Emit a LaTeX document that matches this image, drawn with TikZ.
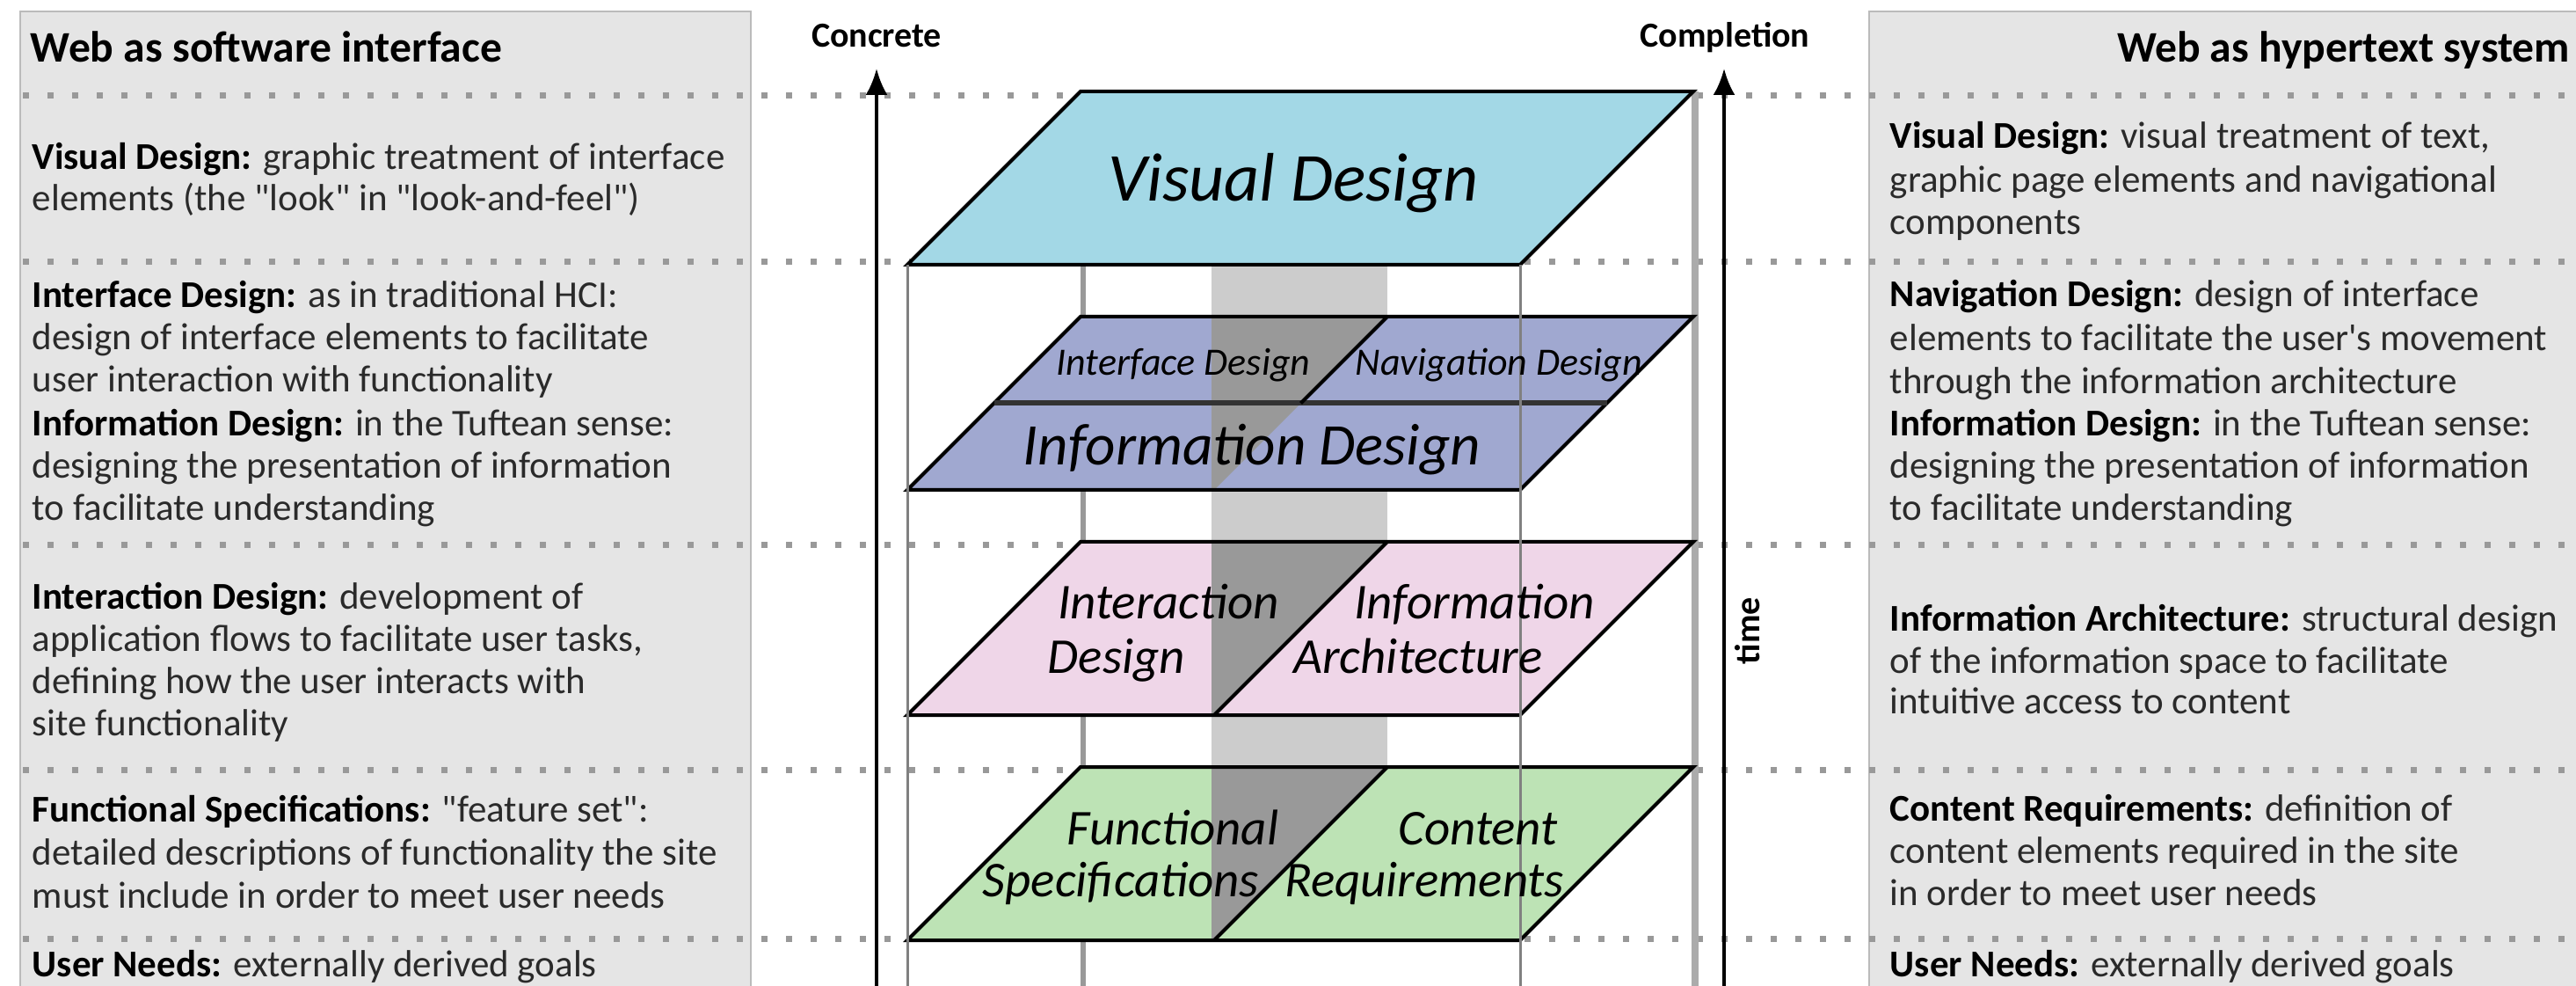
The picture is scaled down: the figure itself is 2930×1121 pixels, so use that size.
\documentclass[tikz,border=0pt]{standalone}
\usepackage{fontspec}
\setmainfont{Carlito}[Ligatures=TeXOff]
\usetikzlibrary{arrows.meta}
\definecolor{boxfill}{HTML}{E5E5E5}
\definecolor{boxline}{HTML}{BBBBBB}
\definecolor{dotc}{HTML}{999999}
\definecolor{visc}{HTML}{A3D8E6}
\definecolor{intc}{HTML}{A0A8D0}
\definecolor{pinkc}{HTML}{EFD6E8}
\definecolor{greenc}{HTML}{BDE3B5}
\definecolor{colL}{HTML}{CCCCCC}
\definecolor{colD}{HTML}{999999}
\definecolor{bodyc}{HTML}{2A2A2A}
\newcommand{\keyw}[1]{\textcolor{black}{\textbf{#1}}}
\begin{document}
\begin{tikzpicture}[x=0.25pt,y=-0.25pt,
  panel/.style={fill=boxfill,draw=boxline,line width=0.6pt},
  dotrow/.style={dotc,line width=1.75pt,dash pattern=on 1.75pt off 5.25pt},
  layer/.style={draw=black,line width=1pt,line join=miter},
  divln/.style={draw=black,line width=1pt},
  midln/.style={draw=black!80,line width=1.5pt},
  backln/.style={draw=black!40,line width=1.5pt},
  backrln/.style={draw=black!33,line width=2pt},
  frontln/.style={draw=black!50,line width=0.75pt},
  txt/.style={anchor=base west,inner sep=0pt,font=\fontsize{10.75pt}{12pt}\selectfont,text=bodyc},
  ttl/.style={anchor=base west,inner sep=0pt,font=\fontsize{12.4pt}{14pt}\selectfont\bfseries},
  axl/.style={anchor=base,inner sep=0pt,font=\fontsize{10pt}{12pt}\selectfont\bfseries},
  arr/.style={-{Latex[length=7.5pt,width=6.25pt]},line width=1pt},
  lbig/.style={anchor=base,inner sep=0pt,font=\fontsize{19.5pt}{22pt}\selectfont\itshape},
  lmed/.style={anchor=base,inner sep=0pt,font=\fontsize{16.75pt}{19pt}\selectfont\itshape},
  lmid/.style={anchor=base,inner sep=0pt,font=\fontsize{14.25pt}{16pt}\selectfont\itshape},
  lsm/.style={anchor=base,inner sep=0pt,font=\fontsize{11pt}{13pt}\selectfont\itshape}
]
\useasboundingbox (0,0) rectangle (2930,1121);
\clip (0,0) rectangle (2930,1121);

% side panels
\path[panel] (23,13) rectangle (854,1140);
\path[panel] (2126,13) rectangle (2960,1140);

% dotted rows
\foreach \yy in {109,298,620,875,1067}{
  \draw[dotrow] (26,\yy) -- (2930,\yy);
}

% back vertical lines
\draw[backln] (1232,104) -- (1232,1140);
\draw[backrln] (1928,104) -- (1928,1140);

% light gray column between layers
\fill[colL] (1378,301) rectangle (1578,360);
\fill[colL] (1378,557) rectangle (1578,616);
\fill[colL] (1378,813) rectangle (1578,872);

% layers (fills)
\fill[visc] (1229,104) -- (1926,104) -- (1729,301) -- (1032,301) -- cycle;
\fill[intc] (1229,360) -- (1926,360) -- (1729,557) -- (1032,557) -- cycle;
\fill[pinkc] (1229,616) -- (1926,616) -- (1729,813) -- (1032,813) -- cycle;
\fill[greenc] (1229,872) -- (1926,872) -- (1729,1069) -- (1032,1069) -- cycle;

% dark shading inside layers
\fill[colD] (1378,360) -- (1578,360) -- (1381,557) -- (1378,557) -- cycle;
\fill[colD] (1378,616) -- (1578,616) -- (1381,813) -- (1378,813) -- cycle;
\fill[colD] (1378,872) -- (1578,872) -- (1381,1069) -- (1378,1069) -- cycle;

% layer outlines and dividers
\draw[layer] (1229,104) -- (1926,104) -- (1729,301) -- (1032,301) -- cycle;
\draw[layer] (1229,360) -- (1926,360) -- (1729,557) -- (1032,557) -- cycle;
\draw[midln] (1130.5,458.5) -- (1827.5,458.5);
\draw[divln] (1578,360) -- (1479.5,458.5);
\draw[layer] (1229,616) -- (1926,616) -- (1729,813) -- (1032,813) -- cycle;
\draw[divln] (1578,616) -- (1381,813);
\draw[layer] (1229,872) -- (1926,872) -- (1729,1069) -- (1032,1069) -- cycle;
\draw[divln] (1578,872) -- (1381,1069);

% front vertical lines
\draw[frontln] (1032,301) -- (1032,1140);
\draw[frontln] (1729,301) -- (1729,1140);

% layer labels
\node[lbig] (tvis) at (1471,229) {Visual Design};
\node[lsm] (tint) at (1346,427) {Interface Design};
\node[lsm] (tnav) at (1705,427) {Navigation Design};
\node[lmed] (tinf) at (1424,529) {Information Design};
\node[lmid] (tia1) at (1329,703) {Interaction};
\node[lmid] (tia2) at (1270,765) {Design};
\node[lmid] (tif1) at (1677,703) {Information};
\node[lmid] (tif2) at (1613,765) {Architecture};
\node[lmid] (tfs1) at (1334,960) {Functional};
\node[lmid] (tfs2) at (1275,1019) {Specifications};
\node[lmid] (tcr1) at (1681,960) {Content};
\node[lmid] (tcr2) at (1620,1019) {Requirements};

% axes
\coordinate (cb) at (997,1140);
\coordinate (ct) at (997,78);
\coordinate (pb) at (1961,1140);
\coordinate (pt) at (1961,78);
\draw[arr] (cb) -- (ct);
\draw[arr] (pb) -- (pt);
\node[axl] (conc) at (997,54) {Concrete};
\node[axl] (compl) at (1962,54) {Completion};
\node[inner sep=0pt,rotate=90,font=\fontsize{10pt}{12pt}\selectfont\bfseries] (time) at (1988,717) {time};

% left panel text
\node[ttl] (lt) at (34,71) {Web as software interface};
\node[txt] (l1) at (36,193) {\keyw{Visual Design:} graphic treatment of interface};
\node[txt] (l2) at (36,240) {elements (the "look" in "look-and-feel")};
\node[txt] (l3) at (36,350) {\keyw{Interface Design:} as in traditional HCI:};
\node[txt] (l4) at (36,398) {design of interface elements to facilitate};
\node[txt] (l5) at (36,446) {user interaction with functionality};
\node[txt] (l6) at (36,496) {\keyw{Information Design:} in the Tuftean sense:};
\node[txt] (l7) at (36,544) {designing the presentation of information};
\node[txt] (l8) at (36,592) {to facilitate understanding};
\node[txt] (l9) at (36,692) {\keyw{Interaction Design:} development of};
\node[txt] (l10) at (36,740) {application flows to facilitate user tasks,};
\node[txt] (l11) at (36,788) {defining how the user interacts with};
\node[txt] (l12) at (36,836) {site functionality};
\node[txt] (l13) at (36,934) {\keyw{Functional Specifications:} "feature set":};
\node[txt] (l14) at (36,983) {detailed descriptions of functionality the site};
\node[txt] (l15) at (36,1032) {must include in order to meet user needs};
\node[txt] (l16) at (36,1110) {\keyw{User Needs:} externally derived goals};

% right panel text
\node[ttl,anchor=base east] (rt) at (2924,71) {Web as hypertext system};
\node[txt] (r1) at (2149,169) {\keyw{Visual Design:} visual treatment of text,};
\node[txt] (r2) at (2149,219) {graphic page elements and navigational};
\node[txt] (r3) at (2149,267) {components};
\node[txt] (r4) at (2149,349) {\keyw{Navigation Design:} design of interface};
\node[txt] (r5) at (2149,399) {elements to facilitate the user's movement};
\node[txt] (r6) at (2149,448) {through the information architecture};
\node[txt] (r7) at (2149,496) {\keyw{Information Design:} in the Tuftean sense:};
\node[txt] (r8) at (2149,544) {designing the presentation of information};
\node[txt] (r9) at (2149,592) {to facilitate understanding};
\node[txt] (r10) at (2149,717) {\keyw{Information Architecture:} structural design};
\node[txt] (r11) at (2149,765) {of the information space to facilitate};
\node[txt] (r12) at (2149,811) {intuitive access to content};
\node[txt] (r13) at (2149,933) {\keyw{Content Requirements:} definition of};
\node[txt] (r14) at (2149,981) {content elements required in the site};
\node[txt] (r15) at (2149,1029) {in order to meet user needs};
\node[txt] (r16) at (2149,1110) {\keyw{User Needs:} externally derived goals};
\end{tikzpicture}
\end{document}
